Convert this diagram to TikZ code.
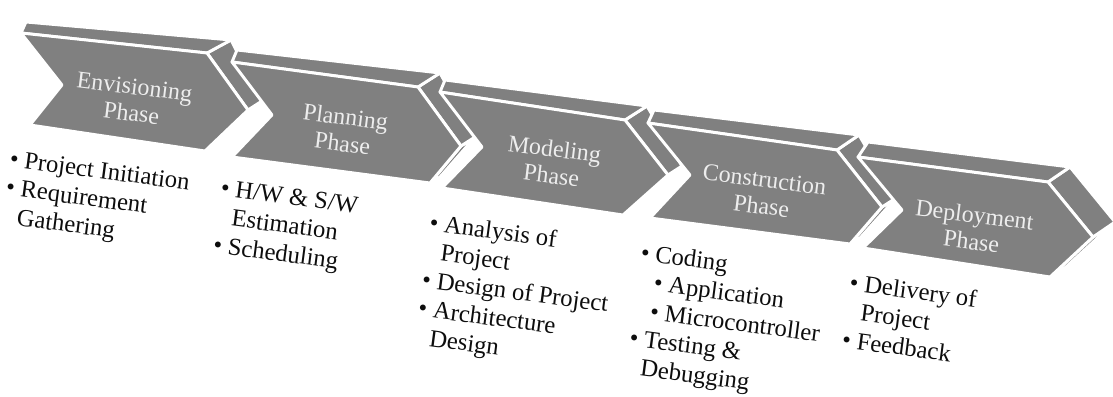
\documentclass[tikz,border=0pt]{standalone}
\usepackage{fontspec}
\setmainfont{Liberation Serif}
\newlength{\du}
\setlength{\du}{0.75pt}
\definecolor{chevfill}{rgb}{0.500000, 0.500000, 0.500000}
\definecolor{chevtext}{rgb}{0.930000, 0.930000, 0.930000}
\definecolor{listtext}{rgb}{0.050000, 0.050000, 0.050000}
\newcommand{\phbul}{\makebox[11pt][l]{\textbullet}}
\newcommand{\phgap}{\hspace*{11pt}}
\tikzset{
  face/.style={fill=chevfill, draw=white, line width=2.2pt, line join=round},
  phasetext/.style={text=chevtext, align=center, rotate=-7, inner sep=0pt,
    font=\fontsize{18}{20}\selectfont},
  itemlist/.style={text=listtext, align=left, anchor=north west, rotate=-7.5,
    inner sep=0pt, font=\fontsize{18.5}{21.5}\selectfont}
}

\begin{document}
\begin{tikzpicture}
\pgftransformxscale{1.000000}
\pgftransformyscale{-1.000000}
\useasboundingbox (0\du,0\du) rectangle (1113\du,396\du);
% chevron 1
\path[face] (248\du,110\du)--(262\du,101\du)--(215\du,145\du)--(205\du,151\du)--cycle;
\path[face] (207\du,53\du)--(231\du,40\du)--(262\du,101\du)--(248\du,110\du)--cycle;
\path[face] (21\du,33\du)--(26\du,22\du)--(231\du,40\du)--(207\du,53\du)--cycle;
\path[face] (21\du,33\du)--(207\du,53\du)--(248\du,110\du)--(205\du,151\du)--(30\du,125\du)--(62\du,85\du)--cycle;
% chevron 2
\path[face] (461\du,146\du)--(475\du,137\du)--(440\du,177\du)--(430\du,183\du)--cycle;
\path[face] (418\du,87\du)--(440\du,73\du)--(475\du,137\du)--(461\du,146\du)--cycle;
\path[face] (232\du,62\du)--(237\du,50\du)--(440\du,73\du)--(418\du,87\du)--cycle;
\path[face] (232\du,62\du)--(418\du,87\du)--(461\du,146\du)--(430\du,183\du)--(232\du,157\du)--(272\du,115\du)--cycle;
% chevron 3
\path[face] (668\du,175\du)--(682\du,166\du)--(633\du,209\du)--(623\du,215\du)--cycle;
\path[face] (625\du,120\du)--(647\du,106\du)--(682\du,166\du)--(668\du,175\du)--cycle;
\path[face] (440\du,92\du)--(445\du,80\du)--(647\du,106\du)--(625\du,120\du)--cycle;
\path[face] (440\du,92\du)--(625\du,120\du)--(668\du,175\du)--(623\du,215\du)--(442\du,188\du)--(482\du,147\du)--cycle;
% chevron 4
\path[face] (882\du,207\du)--(896\du,198\du)--(860\du,238\du)--(850\du,244\du)--cycle;
\path[face] (837\du,150\du)--(859\du,135\du)--(896\du,198\du)--(882\du,207\du)--cycle;
\path[face] (648\du,123\du)--(654\du,110\du)--(859\du,135\du)--(837\du,150\du)--cycle;
\path[face] (648\du,123\du)--(837\du,150\du)--(882\du,207\du)--(850\du,244\du)--(650\du,218\du)--(690\du,175\du)--cycle;
% chevron 5, its right side stays open
\path[face] (1093\du,237\du)--(1115\du,222\du)--(1066\du,267\du)--(1050\du,277\du)--cycle;
\path[face] (1048\du,182\du)--(1070\du,167\du)--(1115\du,222\du)--(1093\du,237\du)--cycle;
\path[face] (858\du,157\du)--(868\du,142\du)--(1070\du,167\du)--(1048\du,182\du)--cycle;
\path[face] (858\du,157\du)--(1048\du,182\du)--(1093\du,237\du)--(1050\du,277\du)--(863\du,248\du)--(902\du,210\du)--cycle;
% phase names
\node[phasetext] (envision) at (133\du,100\du){Envisioning\\Phase};
\node[phasetext] (plan) at (344\du,130\du){Planning\\Phase};
\node[phasetext] (model) at (553\du,162\du){Modeling\\Phase};
\node[phasetext] (construct) at (763\du,193\du){Construction\\Phase};
\node[phasetext] (deploy) at (973\du,228\du){Deployment\\Phase};
% tasks under each phase
\node[itemlist] (envisionlist) at (11\du,150\du){\phbul Project Initiation\\\phbul Requirement\\\phgap Gathering};
\node[itemlist] (planlist) at (222\du,179\du){\phbul H/W \& S/W\\\phgap Estimation\\\phbul Scheduling};
\node[itemlist] (modellist) at (431\du,213\du){\phbul Analysis of\\\phgap Project\\\phbul Design of Project\\\phbul Architecture\\\phgap Design};
\node[itemlist] (constructlist) at (642\du,243\du){\phbul Coding\\\hspace*{12.75pt}\phbul Application\\\hspace*{12.75pt}\phbul Microcontroller\\\phbul Testing \&\\\phgap Debugging};
\node[itemlist] (deploylist) at (851\du,273\du){\phbul Delivery of\\\phgap Project\\\phbul Feedback};
\end{tikzpicture}
\end{document}
